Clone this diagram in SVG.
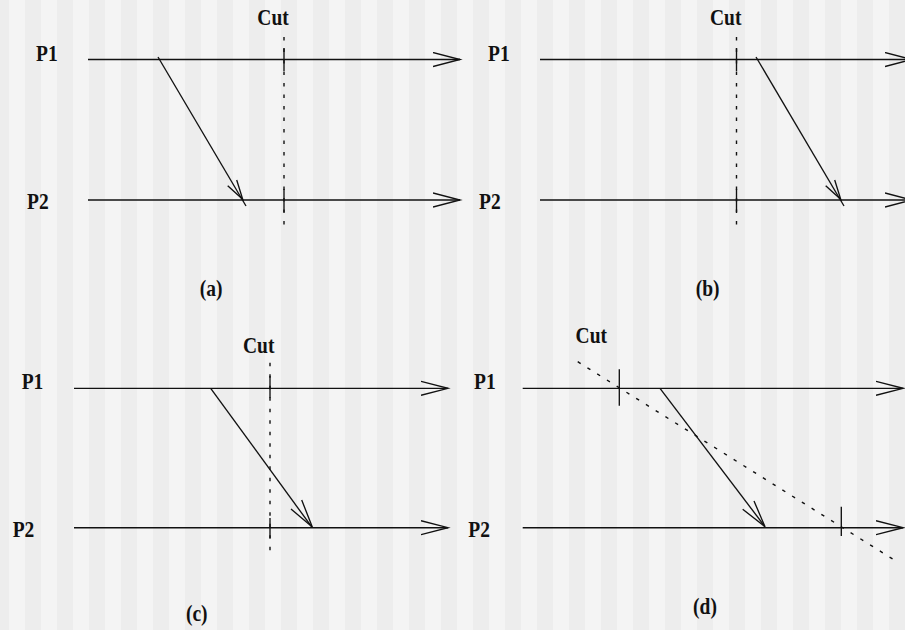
<svg xmlns="http://www.w3.org/2000/svg" width="905" height="630" viewBox="0 0 905 630">
<style>
.ln{stroke:#111;stroke-width:1.35;fill:none}
.cut{stroke:#111;stroke-width:1.4;fill:none;stroke-dasharray:3.5 8}
.tk{stroke:#111;stroke-width:1.35;fill:none}
.t{font-family:"Liberation Serif","Times New Roman",serif;font-weight:bold;font-size:19.5px;fill:#111}
.m{text-anchor:middle}
</style>
<defs>
<pattern id="stripes" x="9" y="0" width="32" height="630" patternUnits="userSpaceOnUse">
<rect x="0" y="0" width="16" height="630" fill="#f4f4f4"/>
<rect x="16" y="0" width="16" height="630" fill="#ededed"/>
</pattern>
<marker id="open" markerWidth="30" markerHeight="18" refX="27" refY="8" orient="auto" markerUnits="userSpaceOnUse">
<path d="M0,1 L27,8 L0,15" fill="none" stroke="#111" stroke-width="1.35"/>
</marker>
</defs>
<rect width="905" height="630" fill="url(#stripes)"/>

<g id="panel-a">
<g id="a-P1"><text class="t" transform="translate(36,60.5) scale(1,1.14)">P1</text><line class="ln" x1="88" y1="59.5" x2="460" y2="59.5" marker-end="url(#open)"/></g>
<g id="a-P2"><text class="t" transform="translate(27,209) scale(1,1.14)">P2</text><line class="ln" x1="88" y1="200" x2="460" y2="200" marker-end="url(#open)"/></g>
<g id="a-cut"><text class="t m" transform="translate(273,25) scale(1,1.14)">Cut</text><line class="cut" x1="284" y1="37" x2="284" y2="227"/><line class="tk" x1="284" y1="48" x2="284" y2="71"/><line class="tk" x1="284" y1="189" x2="284" y2="212"/></g>
<g id="a-connectors"><line class="ln" x1="158" y1="57" x2="246" y2="206"/><polyline class="ln" points="227.7,185.7 242.7,199.3 236.7,180"/></g>
<text class="t m" transform="translate(211,296) scale(1,1.14)">(a)</text>
</g>

<g id="panel-b">
<g id="b-P1"><text class="t" transform="translate(488,60.5) scale(1,1.14)">P1</text><line class="ln" x1="540" y1="59.5" x2="912" y2="59.5" marker-end="url(#open)"/></g>
<g id="b-P2"><text class="t" transform="translate(479,209) scale(1,1.14)">P2</text><line class="ln" x1="540" y1="200" x2="912" y2="200" marker-end="url(#open)"/></g>
<g id="b-cut"><text class="t m" transform="translate(725.7,25) scale(1,1.14)">Cut</text><line class="cut" x1="736.5" y1="37" x2="736.5" y2="227"/><line class="tk" x1="736.5" y1="48" x2="736.5" y2="71"/><line class="tk" x1="736.5" y1="189" x2="736.5" y2="212"/></g>
<g id="b-connectors"><line class="ln" x1="756" y1="57" x2="844" y2="206"/><polyline class="ln" points="825.7,185.7 840.7,199.3 834.7,180"/></g>
<text class="t m" transform="translate(707.7,296) scale(1,1.14)">(b)</text>
</g>

<g id="panel-c">
<g id="c-P1"><text class="t" transform="translate(21.7,389) scale(1,1.14)">P1</text><line class="ln" x1="74" y1="388.3" x2="448" y2="388.3" marker-end="url(#open)"/></g>
<g id="c-P2"><text class="t" transform="translate(12.7,537) scale(1,1.14)">P2</text><line class="ln" x1="74" y1="527.7" x2="448" y2="527.7" marker-end="url(#open)"/></g>
<g id="c-cut"><text class="t m" transform="translate(258.7,352.5) scale(1,1.14)">Cut</text><line class="cut" x1="270" y1="362.7" x2="270" y2="555"/><line class="tk" x1="270" y1="376" x2="270" y2="398"/><line class="tk" x1="270" y1="518" x2="270" y2="538"/></g>
<g id="c-connectors"><line class="ln" x1="210.7" y1="388.3" x2="312.3" y2="527.7"/><polyline class="ln" points="291,509 312.3,527 301.7,500"/></g>
<text class="t m" transform="translate(196.7,621) scale(1,1.14)">(c)</text>
</g>

<g id="panel-d">
<g id="d-P1"><text class="t" transform="translate(474,389) scale(1,1.14)">P1</text><line class="ln" x1="522.7" y1="388.3" x2="903" y2="388.3" marker-end="url(#open)"/></g>
<g id="d-P2"><text class="t" transform="translate(468.3,537) scale(1,1.14)">P2</text><line class="ln" x1="522.7" y1="527.7" x2="903" y2="527.7" marker-end="url(#open)"/></g>
<g id="d-cut"><text class="t m" transform="translate(591.3,343.3) scale(1,1.14)">Cut</text><line class="cut" x1="577.7" y1="361.7" x2="894.3" y2="560"/><line class="tk" x1="619.3" y1="369.3" x2="619.3" y2="405.7"/><line class="tk" x1="841.3" y1="506.7" x2="841.3" y2="536"/></g>
<g id="d-connectors"><line class="ln" x1="660" y1="388.3" x2="765" y2="526.7"/><polyline class="ln" points="742.7,509.3 765,526.7 754,501"/></g>
<text class="t m" transform="translate(705,614) scale(1,1.14)">(d)</text>
</g>
</svg>
